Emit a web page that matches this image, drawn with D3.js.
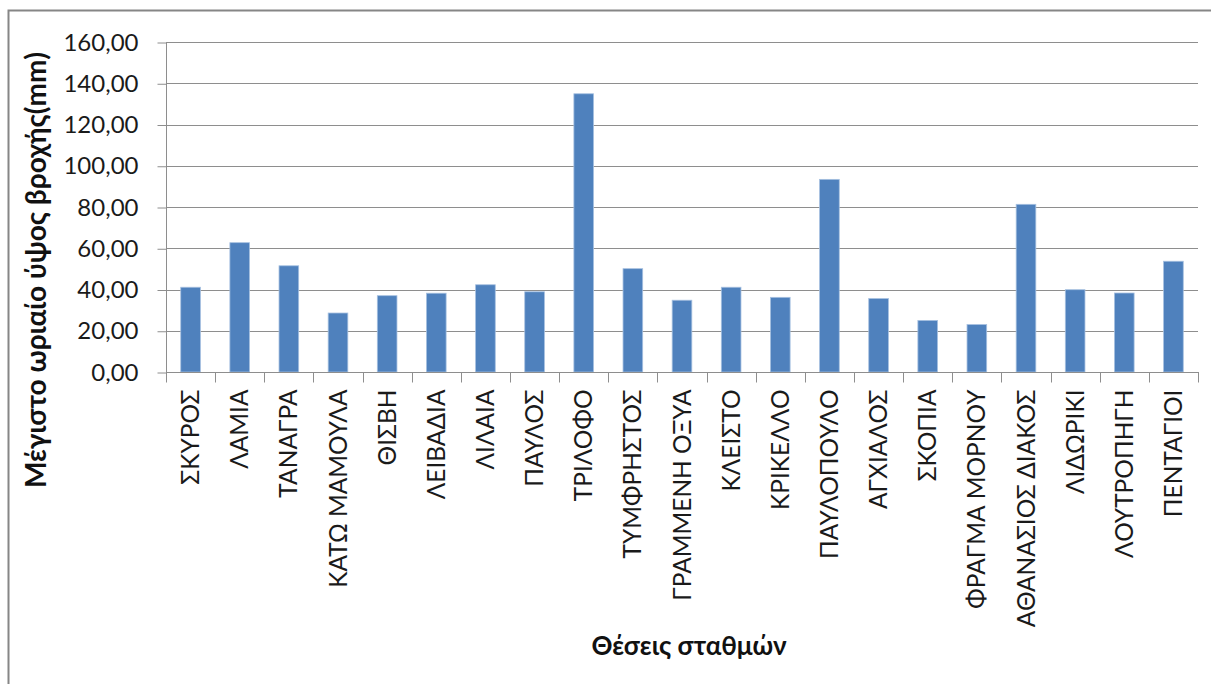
<!DOCTYPE html>
<html>
<head>
<meta charset="utf-8">
<script src="https://cdn.jsdelivr.net/npm/d3@7"></script>
<style>
  body { margin: 0; background: #fff; }
  svg { display: block; font-family: Lato, "Open Sans", sans-serif; }
</style>
</head>
<body>
<svg id="chart" width="1211" height="684"></svg>
<script>
// stations (x axis categories)
const stations = ['ΣΚΥΡΟΣ', 'ΛΑΜΙΑ', 'ΤΑΝΑΓΡΑ', 'ΚΑΤΩ ΜΑΜΟΥΛΑ', 'ΘΙΣΒΗ', 'ΛΕΙΒΑΔΙΑ', 'ΛΙΛΑΙΑ',
  'ΠΑΥΛΟΣ', 'ΤΡΙΛΟΦΟ', 'ΤΥΜΦΡΗΣΤΟΣ', 'ΓΡΑΜΜΕΝΗ ΟΞΥΑ', 'ΚΛΕΙΣΤΟ', 'ΚΡΙΚΕΛΛΟ', 'ΠΑΥΛΟΠΟΥΛΟ',
  'ΑΓΧΙΑΛΟΣ', 'ΣΚΟΠΙΑ', 'ΦΡΑΓΜΑ ΜΟΡΝΟΥ', 'ΑΘΑΝΑΣΙΟΣ ΔΙΑΚΟΣ', 'ΛΙΔΩΡΙΚΙ', 'ΛΟΥΤΡΟΠΗΓΗ', 'ΠΕΝΤΑΓΙΟΙ'];
// max hourly rainfall (mm)
const maxRain = [41.1, 62.7, 51.5, 28.6, 37.0, 38.2, 42.3, 38.9, 134.9, 50.1, 34.8, 41.1, 36.2, 93.4,
  35.6, 25.0, 23.0, 81.3, 39.9, 38.3, 53.7];
const yTicks = [0, 20, 40, 60, 80, 100, 120, 140, 160];

document.addEventListener('DOMContentLoaded', function() {
  const svg = d3.select('#chart');
  const left = 166, right = 1198, top = 42, bottom = 372;
  const axisColor = '#8e8e8e';

  const data = stations.map((s, i) => ({ name: s, value: maxRain[i] }));

  // outer chart border (only left and top edges are inside the frame)
  svg.append('rect')
    .attr('x', 8.5).attr('y', 10.5)
    .attr('width', 1300).attr('height', 800)
    .attr('fill', 'none').attr('stroke', '#868686').attr('stroke-width', 2);

  const x = d3.scaleBand().domain(stations).range([left, right]).paddingInner(0.6).paddingOuter(0.3);
  const xb = d3.scaleBand().domain(stations).range([left, right]);
  const y = d3.scaleLinear().domain([0, 160]).range([bottom, top]);

  // gridlines
  svg.append('g')
    .selectAll('line')
    .data(yTicks.filter(t => t > 0))
    .enter()
    .append('line')
    .attr('x1', left).attr('x2', right)
    .attr('y1', d => Math.round(y(d)) + 0.5).attr('y2', d => Math.round(y(d)) + 0.5)
    .attr('stroke', axisColor).attr('stroke-width', 1);

  // bars
  svg.append('g')
    .selectAll('rect')
    .data(data)
    .enter()
    .append('rect')
    .attr('x', d => x(d.name))
    .attr('y', d => y(d.value))
    .attr('width', x.bandwidth())
    .attr('height', d => bottom - y(d.value))
    .attr('fill', '#4f81bd')
    .attr('stroke', '#a6c0e0').attr('stroke-width', 0.8);

  // y axis
  const yAxis = d3.axisLeft(y).tickValues(yTicks).tickSize(9).tickPadding(19)
    .tickFormat(d => d3.format('.2f')(d).replace('.', ','));
  const gy = svg.append('g').attr('transform', 'translate(' + (left + 0.5) + ',0.5)').call(yAxis);
  gy.select('.domain').attr('stroke', axisColor).attr('d', 'M0,' + (top - 0.5) + 'V' + (bottom - 0.5));
  gy.selectAll('.tick line').attr('stroke', axisColor);
  gy.selectAll('.tick text').attr('font-size', 24).attr('fill', '#1a1a1a').attr('font-family', 'Lato');

  // x axis: ticks sit on the category boundaries
  const gx = svg.append('g').attr('transform', 'translate(0,' + (bottom + 0.5) + ')');
  gx.append('line').attr('x1', left).attr('x2', right + 1).attr('stroke', axisColor);
  gx.selectAll('.xt')
    .data(d3.range(stations.length + 1))
    .enter()
    .append('line')
    .attr('class', 'xt')
    .attr('x1', i => Math.round(left + i * xb.step()) + 0.5)
    .attr('x2', i => Math.round(left + i * xb.step()) + 0.5)
    .attr('y1', 0).attr('y2', 10)
    .attr('stroke', axisColor);
  gx.selectAll('.xl')
    .data(stations)
    .enter()
    .append('text')
    .attr('class', 'xl')
    .attr('transform', d => 'translate(' + (xb(d) + xb.bandwidth() / 2) + ',17) rotate(-90)')
    .attr('text-anchor', 'end')
    .attr('dy', '0.35em')
    .attr('font-size', 24.5)
    .attr('fill', '#1a1a1a')
    .text(d => d);

  // titles
  svg.append('text')
    .attr('transform', 'translate(46,270) rotate(-90)')
    .attr('text-anchor', 'middle')
    .attr('font-weight', 'bold')
    .attr('font-size', 28)
    .attr('fill', '#111')
    .text('Μέγιστο ωριαίο ύψος βροχής(mm)');

  svg.append('text')
    .attr('x', 689).attr('y', 655)
    .attr('text-anchor', 'middle')
    .attr('font-weight', 'bold')
    .attr('font-size', 26)
    .attr('fill', '#111')
    .text('Θέσεις σταθμών');
});
</script>
</body>
</html>
